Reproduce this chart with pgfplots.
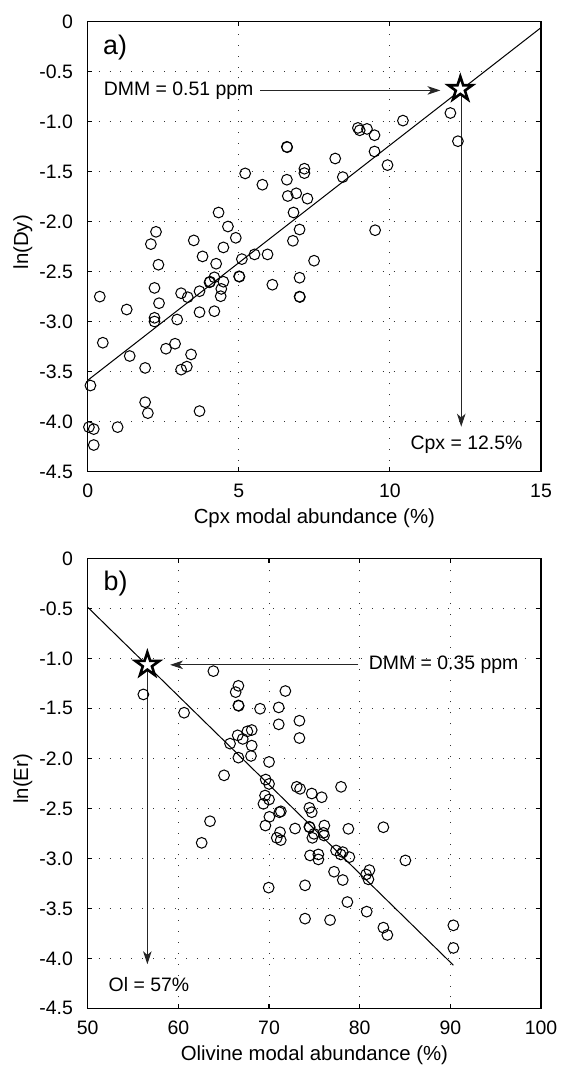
\documentclass[border=0pt]{standalone}
\usepackage{fontspec}
\setmainfont{Liberation Sans}
\usepackage{pgfplots}
\pgfplotsset{compat=1.18}
\usetikzlibrary{arrows.meta}

\pgfdeclareplotmark{pentagram}{%
  \pgfpathmoveto{\pgfpointpolar{90}{\pgfplotmarksize}}%
  \pgfpathlineto{\pgfpointpolar{126}{0.382\pgfplotmarksize}}%
  \pgfpathlineto{\pgfpointpolar{162}{\pgfplotmarksize}}%
  \pgfpathlineto{\pgfpointpolar{198}{0.382\pgfplotmarksize}}%
  \pgfpathlineto{\pgfpointpolar{234}{\pgfplotmarksize}}%
  \pgfpathlineto{\pgfpointpolar{270}{0.382\pgfplotmarksize}}%
  \pgfpathlineto{\pgfpointpolar{306}{\pgfplotmarksize}}%
  \pgfpathlineto{\pgfpointpolar{342}{0.382\pgfplotmarksize}}%
  \pgfpathlineto{\pgfpointpolar{18}{\pgfplotmarksize}}%
  \pgfpathlineto{\pgfpointpolar{54}{0.382\pgfplotmarksize}}%
  \pgfpathclose
  \pgfusepathqfillstroke
}

\tikzset{
  arr/.style={black!85, line width=0.55pt, -{Stealth[length=7pt,width=4.6pt,inset=2pt]}},
  annot/.style={inner sep=0pt, font=\fontsize{10.5}{12}\selectfont},
  panel/.style={inner sep=0pt, font=\fontsize{14.5}{16}\selectfont, anchor=base west},
}

\pgfplotsset{
  myax/.style={
    scale only axis, width=244.8pt, height=243pt,
    axis line style={line width=0.8pt},
    tick align=inside, major tick length=2.5pt,
    tick style={line width=0.6pt, black},
    xtick pos=both, ytick pos=both,
    grid=major,
    major grid style={black!80, line width=0.5pt, dash pattern=on 0.5pt off 5.4pt},
    ticklabel style={font=\fontsize{10.5}{12}\selectfont},
    yticklabel shift=4.5pt,
    xticklabel shift=3pt,
    xlabel style={font=\fontsize{11}{13}\selectfont, at={(axis description cs:0.5,-0.1152)}, anchor=base},
    ylabel style={font=\fontsize{11}{13}\selectfont, at={(axis description cs:-0.1315,0.51)}, anchor=base},
    ytick={-4.5,-4,-3.5,-3,-2.5,-2,-1.5,-1,-0.5,0},
    yticklabels={-4.5,-4.0,-3.5,-3.0,-2.5,-2.0,-1.5,-1.0,-0.5,0},
    ymin=-4.5, ymax=0,
  },
  circ/.style={only marks, mark=o, mark size=2.9pt, mark options={line width=0.55pt, black}},
  starmk/.style={only marks, mark=pentagram, mark size=6.8pt, mark options={fill=white, draw=black, line width=1.4pt, line join=miter}},
}

\pgfplotstableread{
x y
12.00 -0.913
12.25 -1.195
10.43 -0.989
8.94 -1.062
9.00 -1.086
9.24 -1.072
9.49 -1.135
9.49 -1.298
9.92 -1.434
8.19 -1.368
8.44 -1.554
6.59 -1.251
6.60 -1.255
7.17 -1.470
7.17 -1.514
6.59 -1.580
5.21 -1.517
5.78 -1.630
6.62 -1.743
6.90 -1.716
7.27 -1.769
6.81 -1.908
4.33 -1.908
7.01 -2.078
9.51 -2.085
6.79 -2.191
2.26 -2.101
2.09 -2.224
3.51 -2.187
4.64 -2.048
4.90 -2.161
4.49 -2.257
3.80 -2.347
5.52 -2.327
5.95 -2.327
5.10 -2.374
7.49 -2.390
2.34 -2.430
4.25 -2.420
0.40 -2.749
2.21 -2.662
2.36 -2.815
3.09 -2.715
3.31 -2.755
3.70 -2.695
4.03 -2.606
4.05 -2.600
4.19 -2.556
4.49 -2.600
4.42 -2.672
4.40 -2.745
5.01 -2.546
5.02 -2.550
6.11 -2.630
7.01 -2.560
7.01 -2.749
7.02 -2.753
2.21 -2.961
2.21 -2.998
2.96 -2.978
3.70 -2.905
4.19 -2.895
0.50 -3.210
1.29 -2.878
2.89 -3.220
2.59 -3.270
1.39 -3.343
1.90 -3.462
3.42 -3.327
3.28 -3.449
3.09 -3.479
0.09 -3.638
1.90 -3.805
1.99 -3.914
3.70 -3.894
0.04 -4.054
0.20 -4.074
0.99 -4.054
0.20 -4.233
}\dataA

\pgfplotstableread{
x y
56.14 -1.361
60.63 -1.544
63.86 -1.128
66.62 -1.275
66.32 -1.338
66.62 -1.471
66.65 -1.475
69.01 -1.504
71.07 -1.491
71.80 -1.327
71.07 -1.660
73.35 -1.624
73.35 -1.797
66.54 -1.770
67.61 -1.730
68.09 -1.717
67.10 -1.806
65.70 -1.853
68.09 -1.873
66.62 -1.993
68.01 -1.976
70.00 -2.036
65.04 -2.170
69.63 -2.212
70.00 -2.256
73.05 -2.285
73.42 -2.305
77.94 -2.285
74.71 -2.352
75.81 -2.389
69.56 -2.372
70.00 -2.412
69.38 -2.455
74.45 -2.495
74.71 -2.539
71.14 -2.539
71.30 -2.530
70.04 -2.585
69.60 -2.672
63.49 -2.629
62.57 -2.845
72.87 -2.702
74.45 -2.685
74.48 -2.690
76.10 -2.672
71.21 -2.739
70.85 -2.795
71.29 -2.818
74.78 -2.795
74.96 -2.755
75.99 -2.745
76.07 -2.772
78.75 -2.705
82.61 -2.689
74.52 -2.971
75.44 -2.961
75.44 -3.011
77.39 -2.921
77.90 -2.961
78.13 -2.938
78.86 -2.988
85.04 -3.021
77.17 -3.134
78.13 -3.217
80.70 -3.161
81.07 -3.118
80.96 -3.210
69.96 -3.293
73.97 -3.270
78.64 -3.437
73.97 -3.603
76.73 -3.617
80.77 -3.533
82.61 -3.693
83.05 -3.766
90.33 -3.670
90.33 -3.896
}\dataB

\begin{document}
\begin{tikzpicture}
\begin{axis}[myax, name=A, anchor=north west, at={(0,0)},
  xmin=0, xmax=15,
  xtick={0,5,10,15}, xticklabels={0,5,10,15},
  xlabel={Cpx modal abundance (\%)}, ylabel={ln(Dy)}]
\addplot[no marks, black, line width=0.55pt] coordinates {(0,-3.586) (15,-0.059)};
\draw[arr] (axis cs:5.71,-0.687) -- (axis cs:11.67,-0.687);
\draw[arr] (axis cs:12.36,-0.70) -- (axis cs:12.36,-4.05);
\node[annot, anchor=west] at (axis cs:0.52,-0.687) {DMM = 0.51 ppm};
\node[annot, anchor=west] at (axis cs:10.67,-4.233) {Cpx = 12.5\%};
\node[panel] at (axis cs:0.50,-0.332) {a)};
\addplot[circ] table {\dataA};
\addplot[starmk] coordinates {(12.33,-0.674)};
\end{axis}

\begin{axis}[myax, name=B, anchor=north west, at={(0,-289.76pt)},
  xmin=50, xmax=100,
  xtick={50,60,70,80,90,100}, xticklabels={50,60,70,80,90,100},
  xlabel={Olivine modal abundance (\%)}, ylabel={ln(Er)}]
\addplot[no marks, black, line width=0.55pt] coordinates {(50,-0.489) (90.33,-4.069)};
\draw[arr] (axis cs:79.85,-1.065) -- (axis cs:59.08,-1.065);
\draw[arr] (axis cs:56.58,-1.10) -- (axis cs:56.58,-4.059);
\node[annot, anchor=west] at (axis cs:80.96,-1.062) {DMM = 0.35 ppm};
\node[annot, anchor=west] at (axis cs:52.28,-4.258) {Ol = 57\%};
\node[panel] at (axis cs:51.72,-0.326) {b)};
\addplot[circ] table {\dataB};
\addplot[starmk] coordinates {(56.58,-1.065)};
\end{axis}
\pgfresetboundingbox
\path[use as bounding box] (-47.36pt,11.72pt) rectangle (256.1pt,-563.9pt);
\end{tikzpicture}
\end{document}
